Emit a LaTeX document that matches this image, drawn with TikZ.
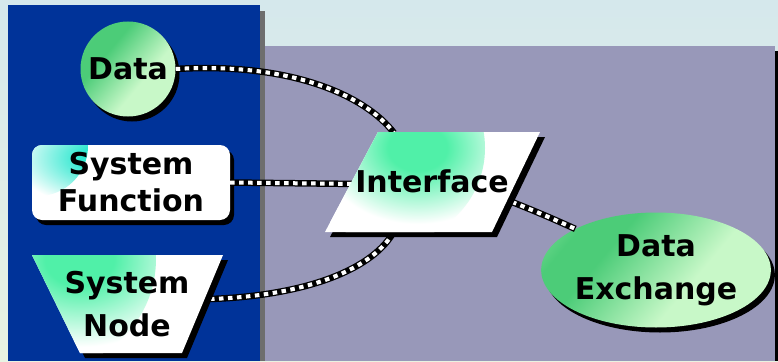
\documentclass[tikz,border=0pt]{standalone}
\usepackage{fontspec}
\setmainfont{DejaVu Sans}
\usetikzlibrary{shapes.geometric,shadows}

\definecolor{bgtop}{HTML}{D5E8EC}
\definecolor{bgbot}{HTML}{E8F3E2}
\definecolor{panelblue}{HTML}{003399}
\definecolor{panelgray}{HTML}{6E6E6E}
\definecolor{panelpurple}{HTML}{9898B9}
\definecolor{dgreen}{HTML}{4CCC78}
\definecolor{lgreen}{HTML}{C8F8C8}
\definecolor{cyanish}{HTML}{30E8D0}
\definecolor{mint}{HTML}{50F0A8}

% diagonal band shading for the round data nodes
\pgfdeclarehorizontalshading{greenband}{100bp}{color(0bp)=(lgreen); color(26bp)=(dgreen); color(36bp)=(dgreen); color(60bp)=(lgreen); color(100bp)=(lgreen)}
% soft corner glows that reach white well inside their circle
\pgfdeclareradialshading{mintglow}{\pgfpoint{0bp}{0bp}}{color(0bp)=(mint); color(6bp)=(mint); color(20bp)=(white); color(50bp)=(white)}
\pgfdeclareradialshading{cyanglow}{\pgfpoint{0bp}{0bp}}{color(0bp)=(cyanish); color(6bp)=(cyanish); color(20bp)=(white); color(50bp)=(white)}

\tikzset{
  lbl/.style={font=\fontsize{30}{37}\selectfont\bfseries, align=center, text=black, inner sep=0pt},
  lblwide/.style={lbl, font=\fontsize{30}{43}\selectfont\bfseries},
  blackshadow/.style={drop shadow={shadow xshift=4pt, shadow yshift=-5pt, fill=black, opacity=1}},
  % white fill with a soft coloured glow in the upper-left corner
  glow/.style n args={4}{fill=white, path picture={
      \shade[shading=#1] ([shift={(#2,#3)}]path picture bounding box.north west) circle (#4);}},
  connbase/.style={draw=black, line width=6.5pt},
  conndash/.style={draw=white, line width=4pt, dash pattern=on 4.5pt off 4.5pt},
}

\begin{document}
\begin{tikzpicture}[x=1pt, y=-1pt]
\useasboundingbox (0,0) rectangle (778,361);

% background and panels
\shade[top color=bgtop, bottom color=bgbot] (0,0) rectangle (778,361);
\fill[panelgray] (260,11) rectangle (265,361);
\fill[panelblue] (8,5) rectangle (260,361);
\fill[black] (775,51) rectangle (778,361);
\fill[panelpurple] (265,46) rectangle (775,361);

% round and boxed nodes
\node[circle, minimum size=95pt, inner sep=0pt, shading=greenband, shading angle=-40, blackshadow,
      lbl] (data) at (128,69) {Data};
\node[rectangle, rounded corners=10pt, minimum width=198pt, minimum height=75pt, inner sep=0pt,
      glow={cyanglow}{6pt}{-1pt}{50pt}, blackshadow, lbl] (sf) at (131,182.5) {System\\Function};
\node[ellipse, minimum width=222pt, minimum height=115pt, inner sep=0pt, shading=greenband,
      shading angle=-40, blackshadow, lblwide] (dx) at (656,270) {Data\\Exchange};

% connection points on the trapezium outlines
\coordinate (snR) at (210,299);
\coordinate (ifTL) at (394,133);
\coordinate (ifBL) at (393,233);
\coordinate (ifR) at (512,202);
\coordinate (ifL) at (360,184);

% connectors: solid black body, then white dashes over it
\foreach \style in {connbase, conndash} {
  \draw[\style] (data.east) .. controls (290,62) and (365,95) .. (ifTL);
  \draw[\style] (sf.east) -- (ifL);
  \draw[\style] (snR) .. controls (300,296) and (370,272) .. (ifBL);
  \draw[\style] (ifR) .. controls (540,213) and (560,222) .. (dx.153);
}

% system node (inverted trapezium)
\fill[black] (37,260) -- (228,260) -- (187,358) -- (85,358) -- cycle;
\path[glow={mintglow}{14pt}{-4pt}{110pt}] (32,255) -- (223,255) -- (182,353) -- (80,353) -- cycle;
\node[lblwide] (sn) at (127,304) {System\\Node};

% interface (parallelogram)
\fill[black] (383,137) -- (545,137) -- (497,237) -- (330,237) -- cycle;
\path[glow={mintglow}{65pt}{-16pt}{95pt}] (378,132) -- (540,132) -- (492,232) -- (325,232) -- cycle;
\node[lbl] (if) at (432,181) {Interface};
\end{tikzpicture}
\end{document}
